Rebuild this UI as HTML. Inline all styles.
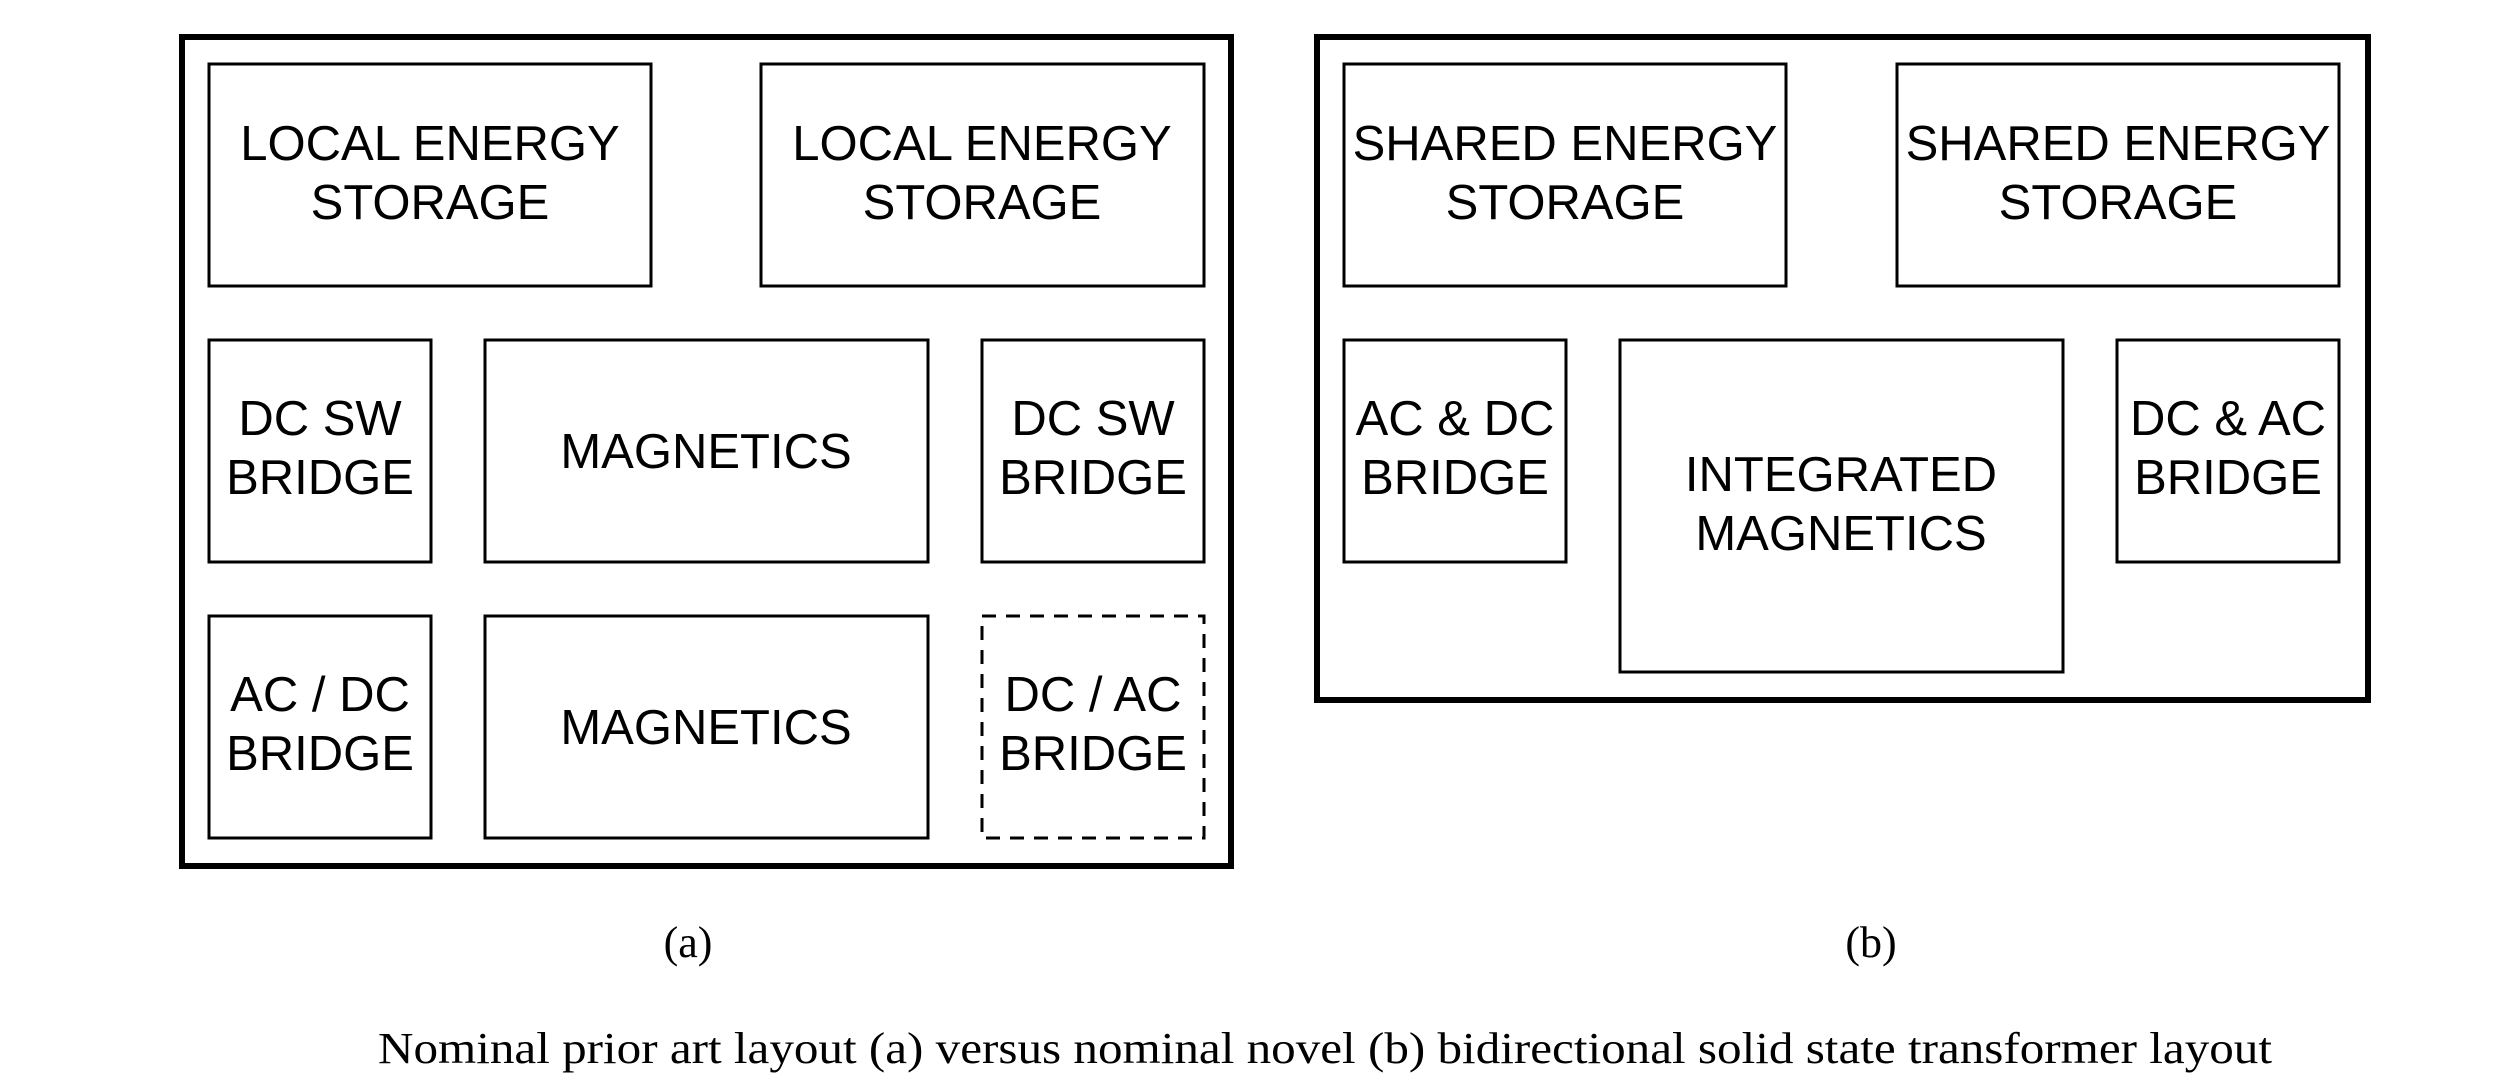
<!DOCTYPE html>
<html><head><meta charset="utf-8"><style>
html,body{margin:0;padding:0;background:#fff;}
svg{display:block;}
.b{font-family:"Liberation Sans",Arial,sans-serif;font-size:49px;fill:#000;text-anchor:middle;}
.s{font-family:"Liberation Serif","Times New Roman",serif;fill:#000;}
</style></head><body>
<svg width="2500" height="1083" viewBox="0 0 2500 1083" xmlns="http://www.w3.org/2000/svg">
<g fill="none" stroke="#000">
<rect x="182" y="37" width="1049" height="829" stroke-width="6"/>
<rect x="1317" y="37" width="1051" height="663" stroke-width="6"/>
<g stroke-width="3">
<rect x="209" y="64" width="442" height="222"/>
<rect x="761" y="64" width="443" height="222"/>
<rect x="209" y="340" width="222" height="222"/>
<rect x="485" y="340" width="443" height="222"/>
<rect x="982" y="340" width="222" height="222"/>
<rect x="209" y="616" width="222" height="222"/>
<rect x="485" y="616" width="443" height="222"/>
<rect x="982" y="616" width="222" height="222" stroke-dasharray="14,10"/>
<rect x="1344" y="64" width="442" height="222"/>
<rect x="1897" y="64" width="442" height="222"/>
<rect x="1344" y="340" width="222" height="222"/>
<rect x="1620" y="340" width="443" height="332"/>
<rect x="2117" y="340" width="222" height="222"/>
</g></g>
<text class="b" x="430" y="160">LOCAL ENERGY</text><text class="b" x="430" y="219">STORAGE</text>
<text class="b" x="982" y="160">LOCAL ENERGY</text><text class="b" x="982" y="219">STORAGE</text>
<text class="b" x="320" y="435">DC SW</text><text class="b" x="320" y="494">BRIDGE</text>
<text class="b" x="706" y="468">MAGNETICS</text>
<text class="b" x="1093" y="435">DC SW</text><text class="b" x="1093" y="494">BRIDGE</text>
<text class="b" x="320" y="711">AC / DC</text><text class="b" x="320" y="770">BRIDGE</text>
<text class="b" x="706" y="744">MAGNETICS</text>
<text class="b" x="1093" y="711">DC / AC</text><text class="b" x="1093" y="770">BRIDGE</text>
<text class="b" x="1565" y="160">SHARED ENERGY</text><text class="b" x="1565" y="219">STORAGE</text>
<text class="b" x="2118" y="160">SHARED ENERGY</text><text class="b" x="2118" y="219">STORAGE</text>
<text class="b" x="1455" y="435">AC &amp; DC</text><text class="b" x="1455" y="494">BRIDGE</text>
<text class="b" x="1841" y="491">INTEGRATED</text><text class="b" x="1841" y="550">MAGNETICS</text>
<text class="b" x="2228" y="435">DC &amp; AC</text><text class="b" x="2228" y="494">BRIDGE</text>
<text class="s" x="688" y="957" font-size="44" text-anchor="middle">(a)</text>
<text class="s" x="1871" y="957" font-size="44" text-anchor="middle">(b)</text>
<text class="s" x="378" y="1063" font-size="44" textLength="1894" lengthAdjust="spacingAndGlyphs">Nominal prior art layout (a) versus nominal novel (b) bidirectional solid state transformer layout</text>
</svg>
</body></html>
